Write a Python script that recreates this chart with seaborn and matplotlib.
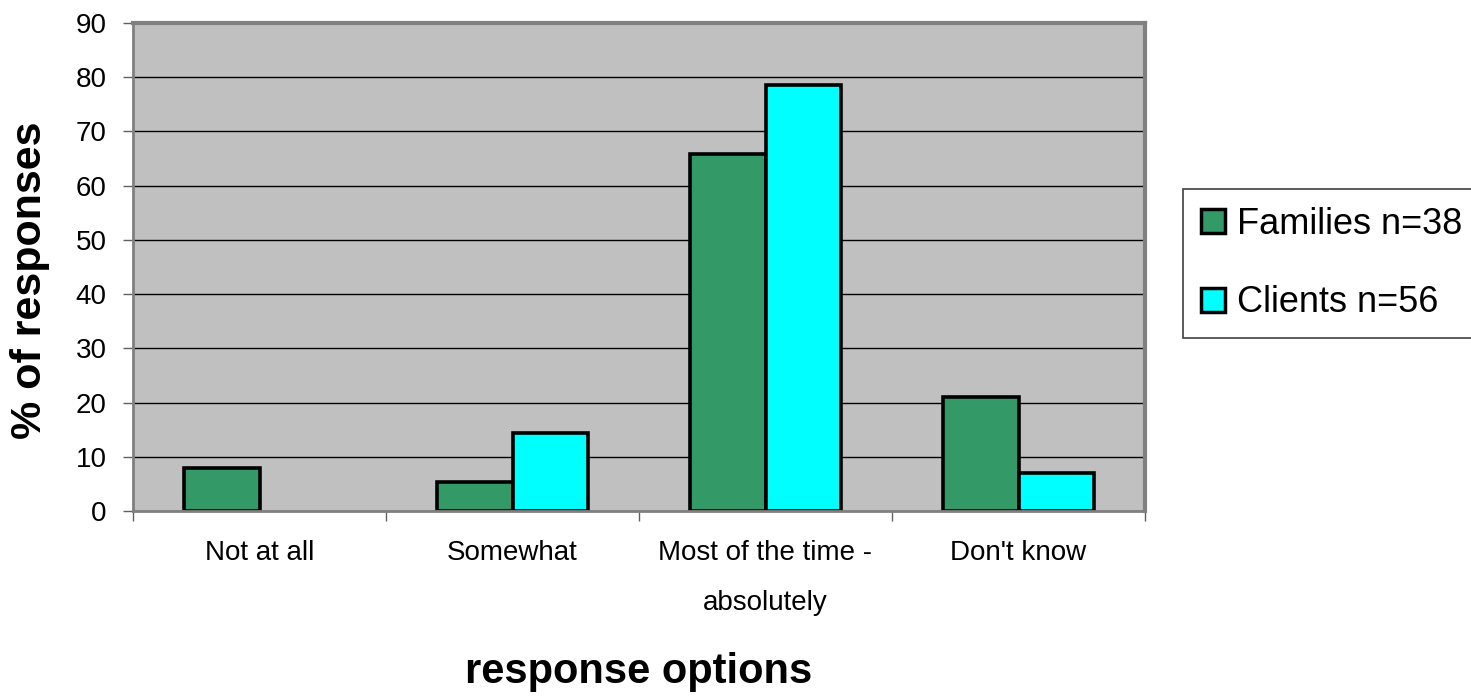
import matplotlib
matplotlib.use("Agg")
import matplotlib.pyplot as plt
import seaborn as sns
import pandas as pd
from matplotlib.ticker import FixedLocator, NullFormatter

# Survey results (% of responses)
categories = ["Not at all", "Somewhat", "Most of the time -\nabsolutely", "Don't know"]
families = [7.9, 5.3, 65.8, 21.1]
clients = [0.0, 14.3, 78.6, 7.1]
series_names = ["Families n=38", "Clients n=56"]
y_ticks = [0, 10, 20, 30, 40, 50, 60, 70, 80, 90]

df = pd.DataFrame({
    "option": categories * 2,
    "pct": families + clients,
    "group": [series_names[0]] * len(categories) + [series_names[1]] * len(categories),
})

sns.set_theme(style="white")
plt.rcParams["font.family"] = ["Liberation Sans", "DejaVu Sans"]
plt.rcParams["text.color"] = "black"

fig = plt.figure(figsize=(14.71, 6.98), dpi=100)
ax = fig.add_axes([133 / 1471, 187 / 698, 1012 / 1471, 488 / 698])
ax.set_facecolor("#C0C0C0")

sns.barplot(
    data=df, x="option", y="pct", hue="group", order=categories,
    hue_order=series_names, palette=["#339966", "#00FFFF"],
    width=0.6, edgecolor="black", linewidth=2.6, saturation=1,
    ax=ax,
)

# hide outline of empty bars
for p in ax.patches:
    if p.get_height() == 0:
        p.set_linewidth(0)

ax.set_ylim(0, 90)
ax.set_xlim(-0.5, len(categories) - 0.5)
ax.set_yticks(y_ticks)
ax.set_axisbelow(True)
ax.yaxis.grid(True, color="black", linewidth=1.0)
ax.xaxis.grid(False)

# category labels centred, tick marks on category boundaries
ax.set_xticks(range(len(categories)), minor=True)
ax.set_xticklabels(categories, minor=True)
ax.xaxis.set_major_locator(FixedLocator([i - 0.5 for i in range(len(categories) + 1)]))
ax.xaxis.set_major_formatter(NullFormatter())
ax.tick_params(axis="x", which="major", direction="out", length=7, width=1, color="#606060", bottom=True)
ax.tick_params(axis="x", which="minor", length=0, pad=21, labelsize=20, labelcolor="black")
for lbl in ax.get_xticklabels(minor=True):
    lbl.set_linespacing(2.2)
    lbl.set_va("top")
ax.tick_params(axis="y", direction="out", length=7, width=1, color="#606060", left=True,
               pad=12, labelsize=20, labelcolor="black")

for side, lw in [("left", 2.0), ("bottom", 2.0), ("top", 3.0), ("right", 3.0)]:
    ax.spines[side].set_visible(True)
    ax.spines[side].set_color("#808080")
    ax.spines[side].set_linewidth(lw)

ax.set_xlabel("response options", fontsize=30, fontweight="bold", color="black")
ax.xaxis.set_label_coords(0.5, -0.33)
ax.xaxis.label.set_va("center")
ax.set_ylabel("% of responses", fontsize=31, fontweight="bold", color="black")
ax.yaxis.set_label_coords(-0.102, 0.473)
ax.yaxis.label.set_va("center")

handles, labels = ax.get_legend_handles_labels()
leg = ax.legend(
    handles, labels, loc="upper left", bbox_to_anchor=(1183 / 1471, 1 - 189 / 698),
    bbox_transform=fig.transFigure, fontsize=26, frameon=True, fancybox=False,
    edgecolor="#404040", framealpha=1, borderpad=0.5, labelspacing=1.2,
    handlelength=0.65, handleheight=0.65, handletextpad=0.35, borderaxespad=0,
)
leg.get_frame().set_linewidth(1.2)
for t in leg.get_texts():
    t.set_color("black")
for h in leg.legend_handles:
    h.set_linewidth(2.5)
    h.set_edgecolor("black")

fig.savefig("out.png", dpi=100)
